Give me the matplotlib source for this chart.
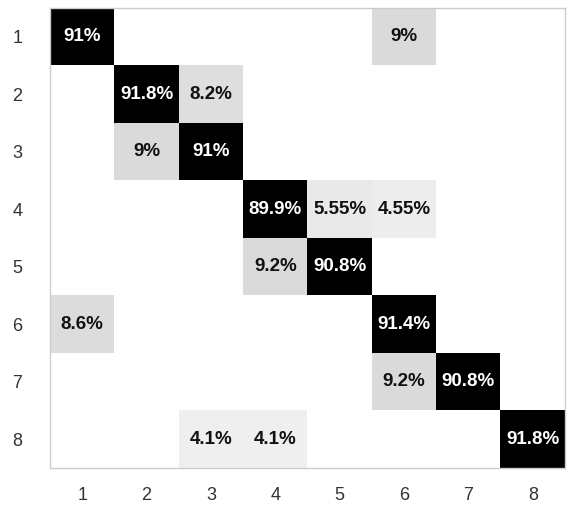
import numpy as np
import matplotlib.pyplot as plt
from matplotlib.colors import LinearSegmentedColormap

plt.rcParams['font.family'] = ['Liberation Sans', 'DejaVu Sans']

classes = ['1', '2', '3', '4', '5', '6', '7', '8']

# row = true class, col = predicted class, values in percent
row_1 = [91, 0, 0, 0, 0, 9, 0, 0]
row_2 = [0, 91.8, 8.2, 0, 0, 0, 0, 0]
row_3 = [0, 9, 91, 0, 0, 0, 0, 0]
row_4 = [0, 0, 0, 89.9, 5.55, 4.55, 0, 0]
row_5 = [0, 0, 0, 9.2, 90.8, 0, 0, 0]
row_6 = [8.6, 0, 0, 0, 0, 91.4, 0, 0]
row_7 = [0, 0, 0, 0, 0, 9.2, 90.8, 0]
row_8 = [0, 0, 4.1, 4.1, 0, 0, 0, 91.8]

cm = np.array([row_1, row_2, row_3, row_4, row_5, row_6, row_7, row_8])

cmap = LinearSegmentedColormap.from_list('wb', ['#ffffff', '#000000'])

fig = plt.figure(figsize=(5.69, 5.08), dpi=100)
ax = fig.add_axes([0.088, 0.079, 0.905, 0.905])
ax.imshow(cm, cmap=cmap, vmin=0, vmax=62, aspect='auto', interpolation='nearest')

for i in range(cm.shape[0]):
    for j in range(cm.shape[1]):
        v = cm[i, j]
        if v == 0:
            continue
        color = 'white' if v > 50 else '#111111'
        ax.text(j, i, '%g%%' % v, ha='center', va='center',
                color=color, fontsize=13.5, fontweight='bold')

ax.set_xticks(range(len(classes)))
ax.set_yticks(range(len(classes)))
ax.set_xticklabels(classes)
ax.set_yticklabels(classes)
ax.tick_params(axis='both', length=0, labelsize=13, labelcolor='#333333')
ax.tick_params(axis='x', pad=14)
ax.tick_params(axis='y', pad=20)
for s in ax.spines.values():
    s.set_color('#cccccc')
    s.set_linewidth(1)

fig.savefig('out.png', dpi=100)
